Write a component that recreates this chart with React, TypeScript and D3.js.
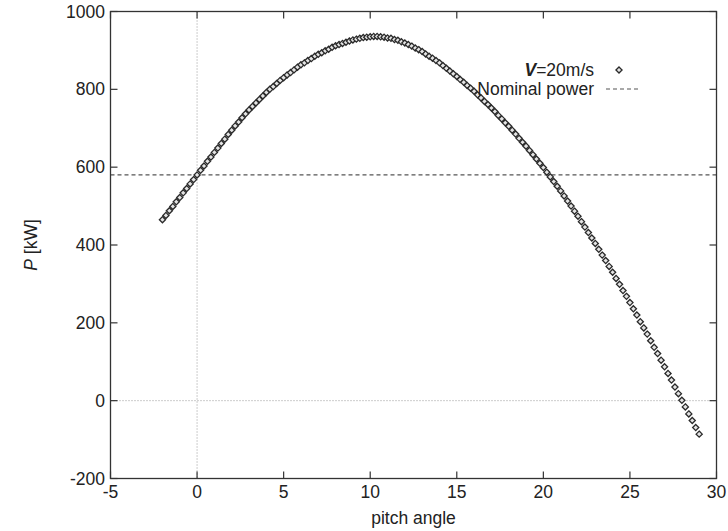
import React, { useEffect, useRef } from 'react';
import * as d3 from 'd3';

const pitchAngle = [
  -2, -1.8, -1.6, -1.4, -1.2, -1, -0.8, -0.6, -0.4, -0.2,
  0, 0.2, 0.4, 0.6, 0.8, 1, 1.2, 1.4, 1.6, 1.8,
  2, 2.2, 2.4, 2.6, 2.8, 3, 3.2, 3.4, 3.6, 3.8,
  4, 4.2, 4.4, 4.6, 4.8, 5, 5.2, 5.4, 5.6, 5.8,
  6, 6.2, 6.4, 6.6, 6.8, 7, 7.2, 7.4, 7.6, 7.8,
  8, 8.2, 8.4, 8.6, 8.8, 9, 9.2, 9.4, 9.6, 9.8,
  10, 10.2, 10.4, 10.6, 10.8, 11, 11.2, 11.4, 11.6, 11.8,
  12, 12.2, 12.4, 12.6, 12.8, 13, 13.2, 13.4, 13.6, 13.8,
  14, 14.2, 14.4, 14.6, 14.8, 15, 15.2, 15.4, 15.6, 15.8,
  16, 16.2, 16.4, 16.6, 16.8, 17, 17.2, 17.4, 17.6, 17.8,
  18, 18.2, 18.4, 18.6, 18.8, 19, 19.2, 19.4, 19.6, 19.8,
  20, 20.2, 20.4, 20.6, 20.8, 21, 21.2, 21.4, 21.6, 21.8,
  22, 22.2, 22.4, 22.6, 22.8, 23, 23.2, 23.4, 23.6, 23.8,
  24, 24.2, 24.4, 24.6, 24.8, 25, 25.2, 25.4, 25.6, 25.8,
  26, 26.2, 26.4, 26.6, 26.8, 27, 27.2, 27.4, 27.6, 27.8,
  28, 28.2, 28.4, 28.6, 28.8, 29
];

// P [kW] at V = 20 m/s
const powerKW = [
  465, 476, 488, 499, 511, 522, 534, 545, 557, 568,
  580, 592, 603, 615, 626, 638, 649, 661, 672, 684,
  695, 706, 716, 727, 737, 747, 756, 765, 774, 783,
  792, 800, 807, 815, 823, 830, 837, 843, 850, 857,
  863, 868, 874, 879, 885, 890, 894, 899, 903, 908,
  912, 915, 918, 921, 924, 927, 929, 931, 933, 934,
  935, 936, 936, 935, 934, 932, 931, 928, 926, 922,
  919, 915, 911, 906, 902, 897, 891, 885, 880, 874,
  868, 861, 854, 847, 840, 833, 825, 818, 810, 803,
  795, 786, 778, 769, 761, 752, 743, 733, 724, 714,
  705, 695, 685, 674, 664, 654, 643, 632, 621, 610,
  599, 587, 575, 563, 551, 539, 526, 513, 500, 487,
  474, 460, 446, 432, 418, 404, 389, 374, 360, 345,
  330, 314, 299, 283, 268, 252, 236, 220, 203, 187,
  171, 154, 137, 121, 104, 87, 70, 53, 35, 18,
  1, -16, -34, -51, -69, -86
];

const nominalPower = 580;
const xTicks = [-5, 0, 5, 10, 15, 20, 25, 30];
const yTicks = [-200, 0, 200, 400, 600, 800, 1000];

const FONT = '"Liberation Sans", Arial, Helvetica, sans-serif';

export default function App() {
  const svgRef = useRef<SVGSVGElement>(null);

  useEffect(() => {
    if (!svgRef.current) return;
    const svg = d3.select(svgRef.current);
    svg.selectAll('*').remove();

    const left = 110.5, right = 716.5, top = 11.5, bottom = 478.5;
    const x = d3.scaleLinear().domain([-5, 30]).range([left, right]);
    const y = d3.scaleLinear().domain([-200, 1000]).range([bottom, top]);
    const tickLen = 7;
    const axisColor = '#333';

    // zero axes (dotted)
    svg.append('line')
      .attr('x1', x(0)).attr('x2', x(0))
      .attr('y1', top).attr('y2', bottom)
      .attr('stroke', '#999').attr('stroke-width', 1)
      .attr('stroke-dasharray', '1 2');
    svg.append('line')
      .attr('x1', left).attr('x2', right)
      .attr('y1', y(0)).attr('y2', y(0))
      .attr('stroke', '#999').attr('stroke-width', 1)
      .attr('stroke-dasharray', '1 2');

    // nominal power
    svg.append('line')
      .attr('x1', left).attr('x2', right)
      .attr('y1', y(nominalPower)).attr('y2', y(nominalPower))
      .attr('stroke', '#555').attr('stroke-width', 1.2)
      .attr('stroke-dasharray', '4 3');

    // ticks on all four sides, pointing inward
    const ticks = svg.append('g').attr('stroke', axisColor).attr('stroke-width', 1.2);
    xTicks.forEach(t => {
      ticks.append('line').attr('x1', x(t)).attr('x2', x(t)).attr('y1', bottom).attr('y2', bottom - tickLen);
      ticks.append('line').attr('x1', x(t)).attr('x2', x(t)).attr('y1', top).attr('y2', top + tickLen);
    });
    yTicks.forEach(t => {
      ticks.append('line').attr('x1', left).attr('x2', left + tickLen).attr('y1', y(t)).attr('y2', y(t));
      ticks.append('line').attr('x1', right).attr('x2', right - tickLen).attr('y1', y(t)).attr('y2', y(t));
    });

    // border
    svg.append('rect')
      .attr('x', left).attr('y', top)
      .attr('width', right - left).attr('height', bottom - top)
      .attr('fill', 'none').attr('stroke', axisColor).attr('stroke-width', 1.3);

    // tick labels
    svg.append('g').selectAll('text')
      .data(xTicks).enter().append('text')
      .attr('x', d => x(d)).attr('y', 498)
      .attr('text-anchor', 'middle')
      .attr('font-family', FONT).attr('font-size', 17.5).attr('fill', '#222')
      .text(d => d);
    svg.append('g').selectAll('text')
      .data(yTicks).enter().append('text')
      .attr('x', 105).attr('y', d => y(d)).attr('dy', '0.35em')
      .attr('text-anchor', 'end')
      .attr('font-family', FONT).attr('font-size', 17.5).attr('fill', '#222')
      .text(d => d);

    // axis titles
    svg.append('text')
      .attr('x', (left + right) / 2).attr('y', 524)
      .attr('text-anchor', 'middle')
      .attr('font-family', FONT).attr('font-size', 17.5).attr('fill', '#222')
      .text('pitch angle');
    const yt = svg.append('text')
      .attr('transform', `translate(37, ${(top + bottom) / 2}) rotate(-90)`)
      .attr('text-anchor', 'middle')
      .attr('font-family', FONT).attr('font-size', 17.5).attr('fill', '#222');
    yt.append('tspan').attr('font-style', 'italic').text('P');
    yt.append('tspan').text(' [kW]');

    // data points
    const diamond = d3.symbol().type(d3.symbolDiamond2).size(24);
    svg.append('g').selectAll('path')
      .data(pitchAngle.map((p, i) => [p, powerKW[i]] as [number, number]))
      .enter().append('path')
      .attr('transform', d => `translate(${x(d[0])},${y(d[1])})`)
      .attr('d', diamond)
      .attr('fill', '#e4e4e4')
      .attr('stroke', '#2a2a2a')
      .attr('stroke-width', 1.3);

    // legend
    const lg = svg.append('g').attr('font-family', FONT).attr('font-size', 17.5).attr('fill', '#222');
    const t1 = lg.append('text').attr('x', 594).attr('y', 70).attr('dy', '0.35em').attr('text-anchor', 'end');
    t1.append('tspan').attr('font-weight', 'bold').attr('font-style', 'italic').text('V');
    t1.append('tspan').text('=20m/s');
    lg.append('path')
      .attr('transform', `translate(619,70)`)
      .attr('d', diamond)
      .attr('fill', '#e4e4e4').attr('stroke', '#2a2a2a').attr('stroke-width', 1.3);
    lg.append('text').attr('x', 594).attr('y', 89).attr('dy', '0.35em').attr('text-anchor', 'end')
      .text('Nominal power');
    lg.append('line')
      .attr('x1', 606).attr('x2', 641).attr('y1', 89).attr('y2', 89)
      .attr('stroke', '#555').attr('stroke-width', 1.2).attr('stroke-dasharray', '4 3');
  }, []);

  return (
    <div style={{ position: 'absolute', left: 0, top: 0, width: 728, height: 531, background: '#fff' }}>
      <svg ref={svgRef} width={728} height={531} />
    </div>
  );
}
